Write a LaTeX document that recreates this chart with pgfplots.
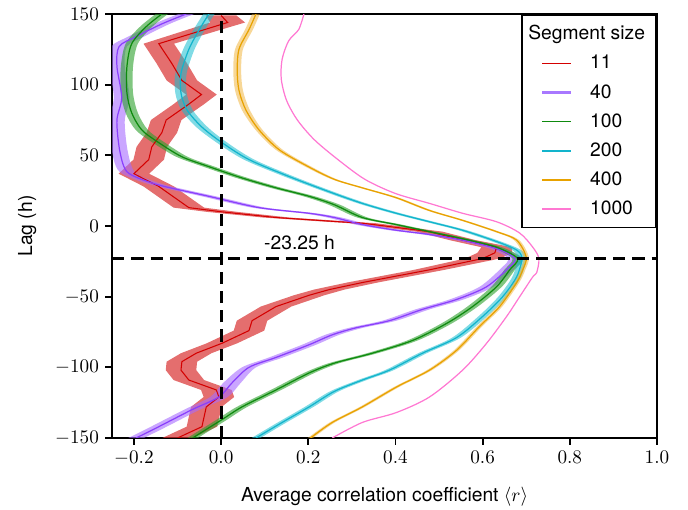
\documentclass[border=0pt]{standalone}
\usepackage{pgfplots}
\pgfplotsset{compat=1.18}
\usepackage{pgfplotstable}
\usepgfplotslibrary{fillbetween}
\usepackage{fontspec}
\setmainfont{TeX Gyre Heros}

\definecolor{cRed}{HTML}{D40000}
\definecolor{cRedB}{HTML}{D83030}
\definecolor{cPur}{HTML}{8A3FFC}
\definecolor{cPurB}{HTML}{A66BFF}
\definecolor{cPurL}{HTML}{A878FF}
\definecolor{cGrn}{HTML}{0E8A0E}
\definecolor{cGrnB}{HTML}{2CA02C}
\definecolor{cCyn}{HTML}{12B4CC}
\definecolor{cCynB}{HTML}{17BECF}
\definecolor{cOrg}{HTML}{E8A200}
\definecolor{cOrgB}{HTML}{F0B030}
\definecolor{cPnk}{HTML}{FF78D2}

\pgfplotsset{
    legline/.style 2 args={legend image code/.code={
        \path[draw=none, fill=none] (-6.9pt,0pt) rectangle (25.7pt,0pt);
        \fill[#1, draw=none] (0pt,-#2) rectangle (17pt,#2);
    }},
}

% y = lag (h), x = <r>, e = half width of band
\pgfplotstableread{
y x e
149 0.000 0.035
144 0.015 0.040
129 -0.143 0.035
115 -0.113 0.035
103 -0.090 0.035
93 -0.045 0.035
86 -0.075 0.035
75 -0.126 0.035
66 -0.136 0.035
56 -0.159 0.035
47 -0.166 0.035
37 -0.200 0.035
28 -0.143 0.035
13 -0.074 0.035
10 0.002 0.035
6 0.126 0.030
3 0.271 0.030
2 0.324 0.030
-1 0.402 0.030
-4 0.478 0.030
-10 0.554 0.030
-15 0.632 0.035
-19 0.628 0.040
-23 0.600 0.040
-31 0.478 0.035
-40 0.324 0.035
-45 0.248 0.035
-49 0.202 0.035
-57 0.126 0.035
-67 0.071 0.035
-74 0.064 0.035
-83 0.002 0.035
-90 -0.057 0.035
-96 -0.090 0.035
-102 -0.092 0.035
-109 -0.074 0.035
-116 -0.011 0.035
-121 -0.005 0.035
-128 -0.034 0.035
-142 -0.044 0.035
-150 -0.100 0.035
}\tabA

\pgfplotstableread{
y x e
150 -0.080 0.018
143 -0.136 0.018
134 -0.195 0.018
127 -0.234 0.018
113 -0.239 0.018
91 -0.228 0.018
75 -0.239 0.018
56 -0.234 0.018
42 -0.223 0.018
36 -0.205 0.016
29 -0.143 0.016
21 -0.028 0.016
13 0.087 0.016
9 0.202 0.016
6 0.260 0.016
1 0.324 0.016
-3 0.402 0.016
-6 0.478 0.016
-10 0.554 0.016
-16 0.632 0.016
-23 0.674 0.016
-30 0.658 0.016
-43 0.609 0.016
-52 0.540 0.016
-59 0.462 0.016
-67 0.386 0.016
-72 0.310 0.016
-77 0.255 0.016
-84 0.202 0.016
-93 0.126 0.016
-100 0.064 0.016
-111 0.025 0.020
-121 -0.005 0.020
-130 -0.067 0.018
-142 -0.143 0.018
-150 -0.195 0.018
}\tabB

\pgfplotstableread{
y x e
150 -0.136 0.014
141 -0.172 0.014
129 -0.205 0.014
113 -0.216 0.014
94 -0.216 0.014
80 -0.205 0.014
68 -0.182 0.014
59 -0.143 0.014
49 -0.090 0.013
42 -0.028 0.013
34 0.048 0.013
27 0.126 0.013
21 0.202 0.013
15 0.260 0.013
6 0.324 0.012
1 0.402 0.012
-4 0.478 0.012
-9 0.554 0.012
-15 0.632 0.012
-23 0.680 0.012
-31 0.662 0.012
-43 0.632 0.012
-57 0.577 0.012
-69 0.517 0.012
-81 0.439 0.012
-90 0.347 0.012
-97 0.260 0.012
-104 0.202 0.012
-116 0.126 0.012
-128 0.048 0.012
-137 0.002 0.012
-147 -0.050 0.012
-150 -0.065 0.012
}\tabC

\pgfplotstableread{
y x e
150 -0.028 0.013
139 -0.050 0.013
125 -0.074 0.013
108 -0.092 0.013
94 -0.092 0.013
82 -0.078 0.013
70 -0.044 0.013
59 0.002 0.012
47 0.064 0.012
35 0.156 0.011
24 0.250 0.010
16 0.324 0.010
9 0.402 0.010
3 0.478 0.010
-3 0.554 0.010
-11 0.632 0.010
-17 0.678 0.010
-23 0.690 0.010
-36 0.678 0.010
-50 0.646 0.010
-64 0.600 0.010
-79 0.540 0.010
-90 0.462 0.010
-102 0.386 0.010
-109 0.324 0.010
-117 0.260 0.010
-128 0.202 0.010
-139 0.140 0.010
-150 0.080 0.010
}\tabD

\pgfplotstableread{
y x e
150 0.080 0.009
139 0.064 0.009
125 0.041 0.009
110 0.037 0.009
96 0.041 0.009
82 0.057 0.009
68 0.087 0.008
54 0.133 0.008
42 0.200 0.007
33 0.260 0.006
27 0.324 0.006
20 0.402 0.006
11 0.478 0.006
4 0.554 0.006
-4 0.632 0.006
-10 0.678 0.006
-22 0.700 0.006
-31 0.692 0.006
-40 0.678 0.006
-57 0.639 0.006
-71 0.593 0.006
-88 0.540 0.006
-102 0.478 0.006
-114 0.402 0.006
-128 0.324 0.006
-139 0.255 0.006
-150 0.205 0.006
}\tabE

\pgfplotstableread{
y x
150 0.190
139 0.178
131 0.155
118 0.140
104 0.138
89 0.150
75 0.175
61 0.214
47 0.268
33 0.330
23 0.400
16 0.478
9 0.554
3 0.632
-5 0.685
-15 0.715
-23 0.729
-33 0.724
-36 0.715
-50 0.685
-64 0.655
-83 0.609
-102 0.554
-121 0.478
-132 0.402
-139 0.324
-150 0.255
}\tabF

\begin{document}
\begin{tikzpicture}
\begin{axis}[
    scale only axis,
    width=311pt, height=242pt,
    xmin=-0.25, xmax=1.0,
    ymin=-150, ymax=150,
    xtick={-0.2,0,0.2,0.4,0.6,0.8,1.0},
    ytick={-150,-100,-50,0,50,100,150},
    xticklabel style={/pgf/number format/fixed,
        /pgf/number format/precision=1,
        /pgf/number format/fixed zerofill},
    tick align=outside,
    xtick pos=bottom, ytick pos=left,
    major tick length=4pt,
    tick style={black, line width=1pt},
    axis line style={line width=1.1pt},
    xlabel={Average correlation coefficient $\langle r\rangle$},
    ylabel={Lag (h)},
    xlabel style={at={(axis description cs:0.5,-0.139)}, anchor=center},
    ylabel style={at={(axis description cs:-0.156,0.5)}, anchor=center},
    label style={font=\fontsize{11}{13}\selectfont},
    ticklabel style={font=\fontsize{11}{13}\selectfont},
    legend style={at={(1,1)}, anchor=north east,
        line width=1.1pt,
        font=\fontsize{11}{13}\selectfont,
        row sep=3.3pt, inner xsep=4.3pt, inner ysep=4pt},
    legend cell align=left,
]
% bands
\addplot[draw=none, name path=a1, forget plot] table[x expr=\thisrow{x}-\thisrow{e}, y=y]{\tabA};
\addplot[draw=none, name path=a2, forget plot] table[x expr=\thisrow{x}+\thisrow{e}, y=y]{\tabA};
\addplot[fill=cRedB, fill opacity=0.7, draw=none, forget plot] fill between[of=a1 and a2];

\addplot[draw=none, smooth, name path=b1, forget plot] table[x expr=\thisrow{x}-\thisrow{e}, y=y]{\tabB};
\addplot[draw=none, smooth, name path=b2, forget plot] table[x expr=\thisrow{x}+\thisrow{e}, y=y]{\tabB};
\addplot[fill=cPurB, fill opacity=0.6, draw=none, forget plot] fill between[of=b1 and b2];

\addplot[draw=none, smooth, name path=c1, forget plot] table[x expr=\thisrow{x}-\thisrow{e}, y=y]{\tabC};
\addplot[draw=none, smooth, name path=c2, forget plot] table[x expr=\thisrow{x}+\thisrow{e}, y=y]{\tabC};
\addplot[fill=cGrnB, fill opacity=0.6, draw=none, forget plot] fill between[of=c1 and c2];

\addplot[draw=none, smooth, name path=d1, forget plot] table[x expr=\thisrow{x}-\thisrow{e}, y=y]{\tabD};
\addplot[draw=none, smooth, name path=d2, forget plot] table[x expr=\thisrow{x}+\thisrow{e}, y=y]{\tabD};
\addplot[fill=cCynB, fill opacity=0.55, draw=none, forget plot] fill between[of=d1 and d2];

\addplot[draw=none, smooth, name path=e1, forget plot] table[x expr=\thisrow{x}-\thisrow{e}, y=y]{\tabE};
\addplot[draw=none, smooth, name path=e2, forget plot] table[x expr=\thisrow{x}+\thisrow{e}, y=y]{\tabE};
\addplot[fill=cOrgB, fill opacity=0.5, draw=none, forget plot] fill between[of=e1 and e2];

% mean lines
\addplot[cRed, line width=0.6pt, forget plot] table[x=x, y=y]{\tabA};
\addplot[cPur, smooth, line width=0.7pt, forget plot] table[x=x, y=y]{\tabB};
\addplot[cGrn, smooth, line width=0.7pt, forget plot] table[x=x, y=y]{\tabC};
\addplot[cCyn, smooth, line width=0.7pt, forget plot] table[x=x, y=y]{\tabD};
\addplot[cOrg, smooth, line width=0.7pt, forget plot] table[x=x, y=y]{\tabE};
\addplot[cPnk, smooth, line width=0.7pt, forget plot] table[x=x, y=y]{\tabF};

% legend
\addlegendimage{empty legend}
\addlegendentry{\hspace*{-35.3pt}Segment size}
\addlegendimage{legline={cRed}{0.45pt}}
\addlegendentry{11}
\addlegendimage{legline={cPurL}{0.65pt}}
\addlegendentry{40}
\addlegendimage{legline={cGrn}{0.45pt}}
\addlegendentry{100}
\addlegendimage{legline={cCyn}{0.55pt}}
\addlegendentry{200}
\addlegendimage{legline={cOrg}{0.5pt}}
\addlegendentry{400}
\addlegendimage{legline={cPnk}{0.55pt}}
\addlegendentry{1000}

% reference lines
\addplot[black, line width=1.7pt, dash pattern=on 7pt off 4pt, forget plot] coordinates {(-0.25,-23.25) (1.0,-23.25)};
\addplot[black, line width=1.7pt, dash pattern=on 7pt off 4pt, forget plot] coordinates {(0,-150) (0,150)};
\node[font=\fontsize{11}{13}\selectfont] at (axis cs:0.18,-12) {-23.25 h};
\end{axis}
\pgfresetboundingbox
\path[use as bounding box] ([shift={(-64pt,-41pt)}]current axis.south west) rectangle ([shift={(17.7pt,8pt)}]current axis.north east);
\end{tikzpicture}
\end{document}
